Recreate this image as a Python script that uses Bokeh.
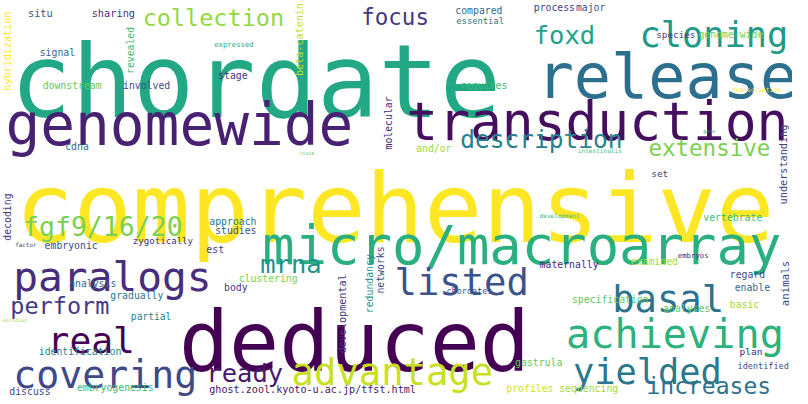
from bokeh.plotting import figure
from bokeh.models import ColumnDataSource, Range1d
from bokeh.core.properties import value
from bokeh.embed import file_html
from bokeh.resources import INLINE

# horizontal words: word, left x, baseline y, font px, colour (image coords)
words = ["chordate", "comprehensive", "deduced", "genomewide", "transduction", "release",
         "micro/macroarray", "paralogs", "real", "covering", "advantage", "achieving",
         "yielded", "basal", "listed", "cloning", "fgf9/16/20", "mrna", "perform", "ready",
         "increases", "ghost.zool.kyoto-u.ac.jp/tfst.html", "collection", "focus", "foxd",
         "compared", "essential", "process", "major", "species", "genome-wide", "requires",
         "transcription", "description", "extensive", "and/or", "gene", "intestinalis", "set",
         "situ", "sharing", "signal", "expressed", "stage", "downstream", "involved", "cdna",
         "ciona", "approach", "studies", "factor", "embryonic", "zygotically", "est",
         "clustering", "analysis", "body", "gradually", "partial", "ascidian", "identification",
         "discuss", "embryogenesis", "development", "vertebrate", "maternally", "examined",
         "embryos", "regard", "enable", "chordates", "specification", "analyses", "basic",
         "plan", "gastrula", "identified", "profiles", "sequencing"]
xs = [10, 15, 182, 5, 414, 547, 267, 13, 48, 13, 297, 577, 584, 624, 402, 652, 23, 265, 10, 210,
      659, 213, 145, 368, 544, 464, 465, 544, 587, 669, 712, 469, 746, 469, 661, 424, 717, 589,
      664, 28, 93, 40, 218, 222, 43, 125, 66, 305, 213, 219, 15, 45, 135, 210, 243, 70, 228, 112,
      133, 2, 39, 9, 78, 550, 717, 550, 643, 691, 744, 749, 455, 583, 676, 744, 754, 525, 752,
      516, 570]
ys = [83, 212, 349, 127, 123, 78, 250, 282, 347, 382, 379, 340, 379, 305, 287, 35, 231, 269, 312,
      380, 393, 397, 18, 17, 35, 10, 21, 7, 7, 35, 35, 87, 91, 142, 150, 151, 133, 153, 176, 13,
      13, 53, 45, 77, 87, 87, 149, 156, 225, 235, 249, 250, 245, 254, 284, 289, 293, 301, 322,
      326, 358, 399, 395, 219, 221, 269, 266, 260, 280, 293, 296, 305, 314, 310, 358, 369, 373,
      396, 396]
sizes = [104, 99, 85, 59, 54, 63, 55, 42, 37, 39, 38, 41, 36, 38, 38, 36, 27, 26, 24, 26, 23.5,
         10.3, 24, 23, 26, 10, 9, 10, 10, 9.5, 10, 10, 6.4, 25, 23, 10, 5, 6.2, 9.5, 10.5, 10.5,
         10, 7.4, 10, 10, 10, 10, 5, 10, 10, 6, 10, 9.3, 10, 10, 10, 10, 10, 9.8, 5.2, 10, 10, 10,
         6.2, 10, 10, 10, 7.4, 10, 10, 8.7, 10, 10, 10, 9.7, 10, 8.7, 10, 10]
colors = ["#22a884", "#fde725", "#440154", "#482173", "#450e5f", "#2c6f8e", "#2ab07f", "#472d7b",
          "#440154", "#3e4989", "#c8e020", "#2db27d", "#2a788e", "#2c728e", "#3b528b", "#1f9a8a",
          "#7ad151", "#21918c", "#443983", "#481a6c", "#2c728e", "#471365", "#95d840", "#453781",
          "#20a386", "#31688e", "#2a788e", "#433e85", "#3b528b", "#443983", "#73d056", "#3aba76",
          "#fde725", "#26828e", "#7ad151", "#a0da39", "#21918c", "#3fbc73", "#433e85", "#3b528b",
          "#46337e", "#31688e", "#22a884", "#46337e", "#5ec962", "#3e4989", "#31688e", "#5ec962",
          "#2a788e", "#3b528b", "#3b528b", "#3e4989", "#472d7b", "#433e85", "#7ad151", "#31688e",
          "#443983", "#2a788e", "#26828e", "#a0da39", "#26828e", "#3e4989", "#35b779", "#35b779",
          "#3cbb75", "#482878", "#a0da39", "#482878", "#3e4989", "#31688e", "#3b528b", "#5ec962",
          "#5ec962", "#a0da39", "#482878", "#5ec962", "#3b528b", "#d2e21b", "#a0da39"]

# vertical words (read bottom to top): word, centre x, bottom y, font px, colour
v_words = ["hybridization", "revealed", "beta-catenin", "molecular", "decoding", "understanding",
           "developmental", "redundancy", "networks", "animals"]
v_xs = [7, 133, 305, 396, 7, 799, 349, 376, 388, 801]
v_ys = [92, 75, 77, 152, 245, 208, 360, 319, 299, 312]
v_sizes = [10.3, 10, 10.3, 10, 10, 10.4, 10.3, 10, 10, 11]
v_colors = ["#fde725", "#3cbb75", "#bddf26", "#482878", "#46337e", "#414487", "#46337e",
            "#21918c", "#3e4989", "#3e4989"]

W, H = 808, 404
scale = 792 / W

p = figure(width=792, height=396, output_backend="svg", toolbar_location=None,
           x_range=Range1d(0, W), y_range=Range1d(H, 0), min_border=0)
p.axis.visible = False
p.grid.visible = False
p.outline_line_color = None
p.background_fill_color = "white"

src = ColumnDataSource(dict(x=xs, y=ys, text=words, color=colors,
                            size=["%.1fpx" % (s * scale) for s in sizes]))
p.text("x", "y", text="text", source=src, text_color="color", text_font_size="size",
       text_font=value("DejaVu Sans Mono"), text_align="left", text_baseline="alphabetic")

vsrc = ColumnDataSource(dict(x=v_xs, y=v_ys, text=v_words, color=v_colors,
                             size=["%.1fpx" % (s * scale) for s in v_sizes]))
p.text("x", "y", text="text", source=vsrc, text_color="color", text_font_size="size",
       text_font=value("DejaVu Sans Mono"), text_align="left", text_baseline="middle",
       angle=1.5708)

open("out.html", "w").write(file_html(p, INLINE))
